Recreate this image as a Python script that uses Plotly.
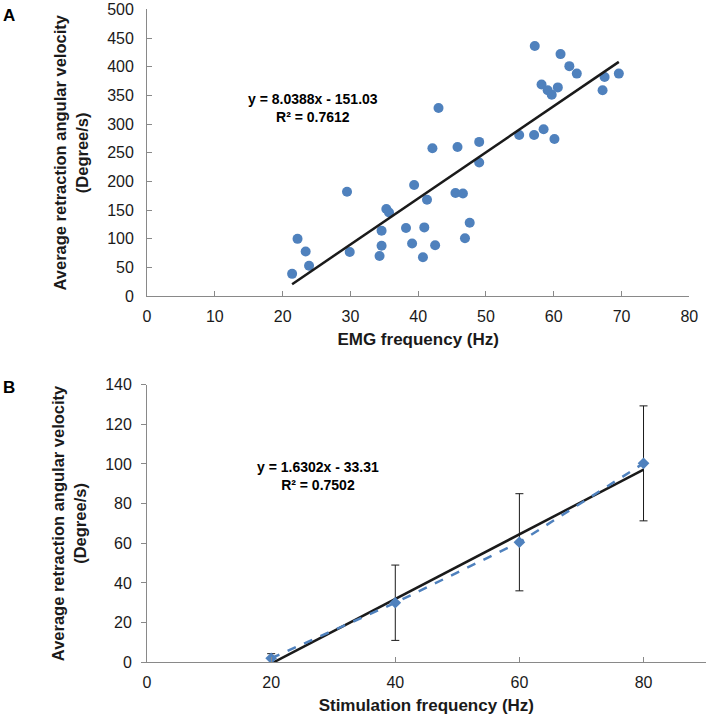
import plotly.graph_objects as go

# Panel A: EMG frequency vs velocity
emg_freq = [21.4, 22.2, 23.4, 23.9, 29.5, 29.9, 34.3, 34.6, 34.6, 35.3, 35.7, 38.2, 39.1, 39.4,
            40.9, 40.7, 41.3, 42.1, 42.5, 43.0, 45.5, 45.8, 46.6, 46.9, 47.6, 49.0, 49.0,
            54.9, 57.1, 57.2, 58.2, 58.5, 59.1, 59.7, 60.1, 60.6, 61.0, 62.3, 63.4, 67.2, 67.5, 69.6]
emg_vel = [39, 100, 78, 53, 182, 77, 70, 88, 114, 152, 146, 119, 92, 194,
           120, 68, 168, 258, 89, 328, 180, 260, 179, 101, 128, 269, 233,
           281, 281, 436, 369, 291, 359, 351, 274, 364, 422, 401, 388, 359, 382, 388]
fit_a_slope, fit_a_int = 8.0388, -151.03
eq_a = ["y = 8.0388x - 151.03", "R² = 0.7612"]

# Panel B: stimulation frequency vs velocity
stim_freq = [20, 40, 60, 80]
stim_vel = [2.0, 30.0, 60.5, 100.3]
stim_err = [2.3, 19.0, 24.5, 29.0]
fit_b_slope, fit_b_int = 1.6302, -33.31
eq_b = ["y = 1.6302x - 33.31", "R² = 0.7502"]

x_ticks_a = [0, 10, 20, 30, 40, 50, 60, 70, 80]
y_ticks_a = [0, 50, 100, 150, 200, 250, 300, 350, 400, 450, 500]
x_ticks_b = [0, 20, 40, 60, 80]
y_ticks_b = [0, 20, 40, 60, 80, 100, 120, 140]

BLUE = "#4F81BD"
AXC = "#898989"
FONT = "Liberation Sans, Arial, sans-serif"

fig = go.Figure()

fig.add_trace(go.Scatter(x=emg_freq, y=emg_vel, mode="markers",
                         marker=dict(color=BLUE, size=10), xaxis="x", yaxis="y",
                         showlegend=False))
xa = [min(emg_freq), max(emg_freq)]
fig.add_trace(go.Scatter(x=xa, y=[fit_a_slope * v + fit_a_int for v in xa], mode="lines",
                         line=dict(color="#1a1a1a", width=2.5), xaxis="x", yaxis="y",
                         showlegend=False))

xb = [min(stim_freq), max(stim_freq)]
fig.add_trace(go.Scatter(x=xb, y=[fit_b_slope * v + fit_b_int for v in xb], mode="lines",
                         line=dict(color="#1a1a1a", width=2.5), xaxis="x2", yaxis="y2",
                         showlegend=False))
fig.add_trace(go.Scatter(x=stim_freq, y=stim_vel, mode="lines+markers",
                         line=dict(color=BLUE, width=2.5, dash="dash"),
                         marker=dict(color=BLUE, size=9, symbol="diamond"),
                         error_y=dict(type="data", array=stim_err, color="#1a1a1a",
                                      thickness=1, width=4),
                         xaxis="x2", yaxis="y2", showlegend=False))

ytitle = "<b>Average retraction angular velocity<br>(Degree/s)</b>"
common = dict(showgrid=False, zeroline=False, showline=True, linecolor=AXC, linewidth=1,
              tickcolor=AXC, ticklen=5, automargin=False,
              tickfont=dict(family=FONT, size=16, color="#1a1a1a"))

fig.update_layout(
    width=707, height=719,
    margin=dict(l=0, r=0, t=0, b=0, autoexpand=False),
    paper_bgcolor="white", plot_bgcolor="white",
    font=dict(family=FONT, color="#1a1a1a"),
    xaxis=dict(domain=[0.208, 0.975], range=[0, 80], tickvals=x_ticks_a, ticks="inside",
               ticklabelstandoff=6,
               title=dict(text="<b>EMG frequency (Hz)</b>", font=dict(size=17), standoff=8),
               anchor="y", **common),
    yaxis=dict(domain=[0.588, 0.987], range=[0, 500], tickvals=y_ticks_a, ticks="inside",
               ticklabelstandoff=9,
               title=dict(text=ytitle, font=dict(size=16.5), standoff=14),
               anchor="x", **common),
    xaxis2=dict(domain=[0.208, 0.998], range=[0, 90], tickvals=x_ticks_b, ticks="inside",
                ticklabelstandoff=6,
                title=dict(text="<b>Stimulation frequency (Hz)</b>", font=dict(size=17), standoff=8),
                anchor="y2", **common),
    yaxis2=dict(domain=[0.079, 0.465], range=[0, 140], tickvals=y_ticks_b, ticks="outside",
                ticklabelstandoff=6,
                title=dict(text=ytitle, font=dict(size=16.5), standoff=14),
                anchor="x2", **common),
)

fig.add_annotation(text="<b>A</b>", x=0.002, y=0.979, xref="paper", yref="paper",
                   xanchor="left", yanchor="middle", showarrow=False,
                   font=dict(size=17, family=FONT, color="black"))
fig.add_annotation(text="<b>B</b>", x=0.002, y=0.4604, xref="paper", yref="paper",
                   xanchor="left", yanchor="middle", showarrow=False,
                   font=dict(size=17, family=FONT, color="black"))
fig.add_annotation(text="<b>" + "<br>".join(eq_a) + "</b>", x=313 / 707, y=1 - 107.5 / 719,
                   xref="paper", yref="paper", xanchor="center", yanchor="middle",
                   showarrow=False, font=dict(size=14, family=FONT, color="black"))
fig.add_annotation(text="<b>" + "<br>".join(eq_b) + "</b>", x=318 / 707, y=1 - 476 / 719,
                   xref="paper", yref="paper", xanchor="center", yanchor="middle",
                   showarrow=False, font=dict(size=14, family=FONT, color="black"))

fig.write_html("out.html", config={"displayModeBar": False},
               post_script="document.body.style.margin='0';document.body.style.overflow='hidden';")
